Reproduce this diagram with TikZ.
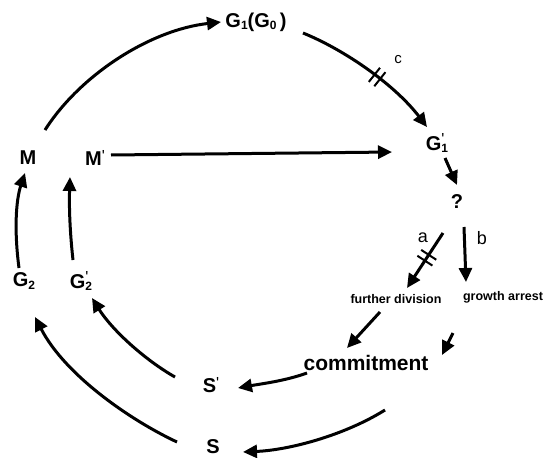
\documentclass[tikz,border=0pt]{standalone}
\usepackage{fontspec}
\setmainfont{Liberation Sans}
\usetikzlibrary{arrows.meta,calc,decorations.markings}
\newcommand\subt[1]{\raisebox{-0.25ex}{\fontsize{12}{12}\selectfont #1}}
\newcommand\prm{\raisebox{0.45ex}{\fontsize{16}{16}\selectfont\mdseries\textquotesingle}}
\newcommand\subp[1]{\rlap{\raisebox{0.55ex}{\fontsize{16}{16}\selectfont\mdseries\textquotesingle}}\subt{#1}}
\begin{document}
\begin{tikzpicture}[x=1pt,y=-1pt,
  lbl/.style={font=\bfseries\fontsize{20}{20}\selectfont, inner sep=1pt},
  small/.style={font=\bfseries\fontsize{12.5}{12.5}\selectfont, inner sep=1pt},
  letter/.style={font=\fontsize{18}{18}\selectfont, inner sep=1pt},
  arr/.style={line width=3pt, -{Triangle[length=14pt,width=13pt]}},
  hash/.style={postaction={decorate,decoration={markings,
     mark=at position #1 with {\draw[line width=2pt,-] (-3.5,-9) -- (-3.5,9) (3.5,-9) -- (3.5,9);}}}}
]
\useasboundingbox (0,0) rectangle (547,458);
% nodes
\node[lbl] (G1) at (256,22) {G\subt{1}(G\subt{0}\,)};
\node[lbl] (G1p) at (437,143) {G\subp{1}};
\node[lbl] (Q) at (457,202) {?};
\node[small] (FD) at (396,299) {further division};
\node[small] (GA) at (503,297) {growth arrest};
\node[lbl, font=\bfseries\fontsize{21}{21}\selectfont] (C) at (366,363) {commitment};
\node[lbl] (Sp) at (211,385) {S\prm};
\node[lbl] (S) at (213,447) {S};
\node[lbl] (M) at (28,158) {M};
\node[lbl] (Mp) at (95,158) {M\prm};
\node[lbl] (G2) at (24,281) {G\subt{2}};
\node[lbl] (G2p) at (81,281) {G\subp{2}};
\node[letter] (la) at (423,238) {a};
\node[letter] (lb) at (482,238) {b};
\node[letter, font=\fontsize{15}{15}\selectfont] (lc) at (398,60) {c};
% connectors
\draw[arr] ($(M)+(17,-28)$) .. controls ($(M)+(52,-83)$) and ($(G1)+(-106,8)$) .. ($(G1)+(-35,0)$);
\draw[arr, hash=0.55] ($(G1)+(47,11)$) .. controls ($(G1)+(89,28)$) and ($(G1p)+(-42,-58)$) .. ($(G1p)+(-10,-16)$);
\draw[arr] ($(Mp)+(16,-3)$) -- ($(G1p)+(-45,9)$);
\draw[arr] ($(G1p)+(8,15)$) -- ($(Q)+(0,-17)$);
\draw[arr, hash=0.45] ($(Q)+(-14,31)$) -- ($(FD)+(11,-11)$);
\draw[arr] ($(Q)+(7,25)$) -- ($(GA)+(-37,-15)$);
\draw[arr] ($(FD)+(-16,13)$) -- ($(C)+(-19,-15)$);
\draw[arr] ($(GA)+(-50,36)$) -- ($(C)+(76,-8)$);
\draw[arr] ($(C)+(-59,10)$) .. controls ($(C)+(-81,18)$) and ($(Sp)+(49,-1)$) .. ($(Sp)+(27,3)$);
\draw[arr] ($(C)+(19,47)$) .. controls ($(C)+(-21,72)$) and ($(S)+(77,3)$) .. ($(S)+(30,5)$);
\draw[arr] ($(Sp)+(-36,-8)$) .. controls ($(Sp)+(-66,-25)$) and ($(G2p)+(31,49)$) .. ($(G2p)+(11,17)$);
\draw[arr] ($(S)+(-36,-5)$) .. controls ($(S)+(-83,-27)$) and ($(G2)+(41,94)$) .. ($(G2)+(11,36)$);
\draw[arr] ($(G2)+(-5,-13)$) .. controls ($(G2)+(-10,-51)$) and ($(M)+(-12,42)$) .. ($(M)+(-3,15)$);
\draw[arr] ($(G2p)+(-8,-21)$) .. controls ($(G2p)+(-11,-48)$) and ($(Mp)+(-26,50)$) .. ($(Mp)+(-25,19)$);
\end{tikzpicture}
\end{document}
